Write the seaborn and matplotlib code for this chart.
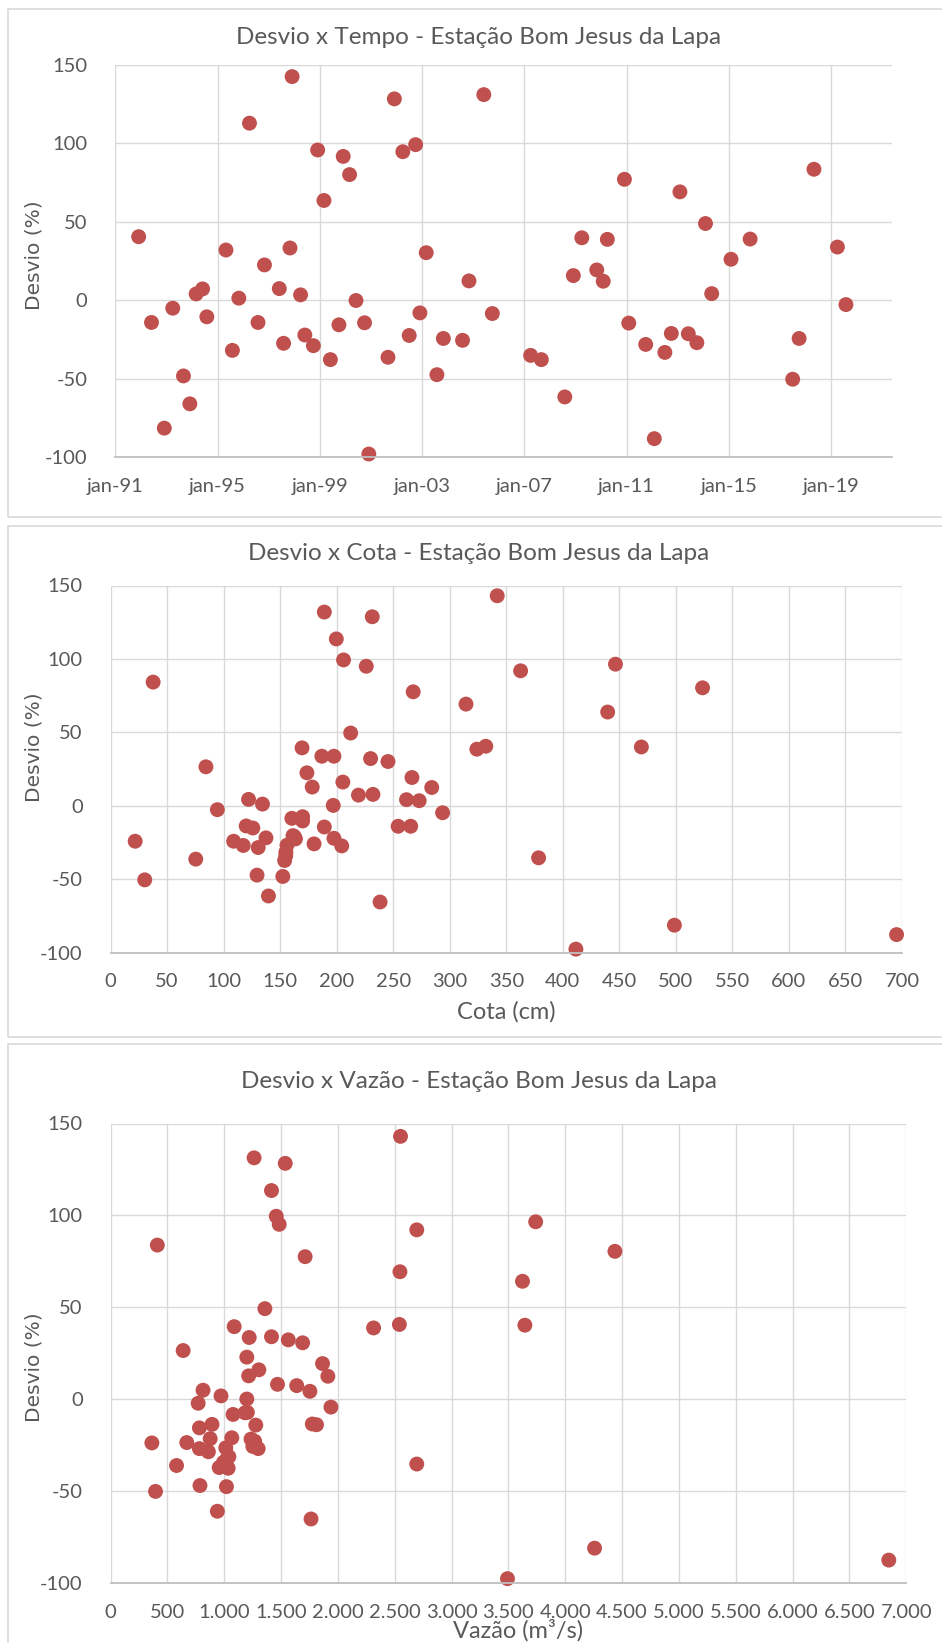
import numpy as np
import pandas as pd
import seaborn as sns
import matplotlib
matplotlib.use('Agg')
import matplotlib.pyplot as plt
import matplotlib.dates as mdates
from matplotlib.ticker import FuncFormatter, MultipleLocator
from matplotlib.patches import Rectangle

# Desvio x Tempo
datas = ['1991-12', '1992-06', '1992-12', '1993-04', '1993-09', '1993-12', '1994-03', '1994-06', '1994-08', '1995-05',
         '1995-08', '1995-11', '1996-04', '1996-08', '1996-11', '1997-06', '1997-08', '1997-11', '1997-12', '1998-04',
         '1998-06', '1998-10', '1998-12', '1999-03', '1999-06', '1999-10', '1999-12', '2000-03', '2000-06', '2000-10',
         '2000-12', '2001-09', '2001-12', '2002-04', '2002-07', '2002-10', '2002-12', '2003-03', '2003-08', '2003-11',
         '2004-08', '2004-11', '2005-06', '2005-10', '2007-04', '2007-09', '2008-08', '2008-12', '2009-04', '2009-11',
         '2010-02', '2010-04', '2010-12', '2011-02', '2011-10', '2012-02', '2012-07', '2012-10', '2013-02', '2013-06',
         '2013-10', '2014-02', '2014-05', '2015-02', '2015-11', '2017-07', '2017-10', '2018-05', '2019-04', '2019-08']
desvio_tempo = [40.5, -14.2, -81.6, -5.1, -48.3, -66.1, 4.0, 7.2, -10.6, 32.0,
                -32.0, 1.3, 112.9, -14.2, 22.5, 7.4, -27.5, 33.3, 142.6, 3.4,
                -22.2, -29.0, 95.8, 63.6, -37.9, -15.7, 91.7, 80.1, -0.2, -14.4,
                -98.1, -36.4, 128.4, 94.7, -22.5, 99.2, -8.1, 30.3, -47.5, -24.4,
                -25.6, 12.3, 131.1, -8.5, -35.2, -37.9, -61.7, 15.7, 39.8, 19.3,
                12.1, 38.8, 77.1, -14.6, -28.2, -88.3, -33.3, -21.2, 69.1, -21.4,
                -27.1, 48.9, 4.2, 26.1, 39.0, -50.4, -24.4, 83.5, 33.9, -2.8]

# Desvio x Cota
cota = [21.8, 30.3, 37.7, 75.4, 84.4, 94.5, 108.9, 117.4, 120.0, 122.1,
        125.9, 129.6, 130.6, 134.4, 137.5, 139.7, 152.4, 154.0, 155.1, 156.1,
        160.4, 161.4, 163.6, 169.9, 169.9, 169.4, 173.7, 178.4, 180.0, 186.9,
        189.1, 189.1, 197.6, 197.0, 197.6, 199.7, 204.5, 205.5, 206.1, 212.4,
        219.3, 226.2, 230.0, 231.5, 232.1, 238.4, 245.4, 254.4, 261.8, 265.5,
        266.6, 267.7, 273.0, 284.1, 293.7, 314.4, 324.0, 331.9, 342.0, 362.7,
        378.6, 411.6, 439.7, 446.6, 469.5, 498.7, 523.6, 695.2, 155.0, 162.5]
desvio_cota = [-24.2, -50.5, 84.2, -36.4, 26.5, -2.7, -24.2, -27.1, -13.8, 4.3,
               -15.2, -47.3, -28.5, 1.1, -21.9, -61.5, -48.2, -37.3, -31.7, -26.9,
               -8.6, -20.4, -22.6, -7.5, -10.4, 39.4, 22.4, 12.7, -26.0, 33.7,
               131.9, -14.5, 33.7, 0.2, -22.2, 113.6, -27.4, 16.1, 99.3, 49.5,
               7.2, 95.0, 32.1, 128.7, 7.7, -65.6, 30.1, -14.0, 4.1, -14.0,
               19.2, 77.6, 3.4, 12.4, -4.8, 69.2, 38.5, 40.5, 143.0, 91.9,
               -35.5, -97.7, 63.8, 96.4, 40.0, -81.4, 80.3, -87.8, -34.0, -21.0]

# Desvio x Vazao
vazao = [364, 396, 412, 581, 639, 671, 771, 782, 782, 787,
         814, 861, 877, 893, 940, 956, 972, 1014, 1020, 1025,
         1035, 1041, 1067, 1078, 1088, 1183, 1199, 1199, 1215, 1220,
         1236, 1252, 1263, 1278, 1299, 1305, 1358, 1416, 1416, 1458,
         1469, 1484, 1537, 1564, 1638, 1690, 1712, 1754, 1764, 1775,
         1812, 1865, 1912, 1939, 2314, 2541, 2546, 2551, 2694, 2694,
         3492, 3624, 3645, 3740, 4258, 4437, 6846, 993, 1204, 1268]
desvio_vazao = [-23.9, -50.3, 83.8, -36.2, 26.4, -23.7, -2.3, -15.7, -27.0, -47.1,
                4.8, -28.7, -21.6, -13.8, -61.1, -37.3, 1.7, -26.6, -47.7, -32.5,
                -37.7, -31.4, -21.1, -8.4, 39.4, -7.5, 0.0, 22.8, 12.6, 33.5,
                -21.8, -25.8, 131.3, -14.2, -27.0, 15.9, 49.2, 113.5, 33.9, 99.5,
                8.0, 95.1, 128.3, 32.2, 7.3, 30.6, 77.5, 4.2, -65.3, -13.6,
                -14.0, 19.3, 12.4, -4.4, 38.7, 40.6, 69.3, 143.0, 92.1, -35.4,
                -97.8, 64.1, 40.2, 96.5, -81.2, 80.4, -87.7, -34.5, -7.3, -23.0]

titulos = ['Desvio x Tempo - Estação Bom Jesus da Lapa',
           'Desvio x Cota - Estação Bom Jesus da Lapa',
           'Desvio x Vazão - Estação Bom Jesus da Lapa']

sns.set_style('white')
plt.rcParams['font.family'] = ['Lato', 'DejaVu Sans']
plt.rcParams['axes.unicode_minus'] = False

W, H = 942, 1643
cinza = '#595959'
vermelho = '#C0504D'

fig = plt.figure(figsize=(W / 100, H / 100), dpi=100)


def caixa(l, r, t, b):
    return [l / W, 1 - b / H, (r - l) / W, (b - t) / H]


def moldura(t, b):
    fig.patches.append(Rectangle((8 / W, 1 - b / H), (980 - 8) / W, (b - t) / H,
                                 transform=fig.transFigure, fill=False,
                                 edgecolor='#d9d9d9', linewidth=1.2))


def estilo(ax):
    ax.set_ylim(-100, 150)
    ax.set_yticks(range(-100, 151, 50))
    ax.grid(True, color='#d9d9d9', linewidth=1.0)
    ax.set_axisbelow(True)
    for lado in ['top', 'right', 'left']:
        ax.spines[lado].set_visible(False)
    ax.spines['bottom'].set_color('#bfbfbf')
    ax.spines['bottom'].set_linewidth(1.3)
    ax.tick_params(axis='both', length=0, labelsize=14.5, labelcolor=cinza)
    ax.tick_params(axis='y', pad=20)
    ax.tick_params(axis='x', pad=15)
    ax.set_xlabel('')
    ax.set_ylabel('')
    for c in ax.collections:
        c.set_clip_on(False)


def rotulo_y(yc):
    fig.text(34 / W, 1 - yc / H, 'Desvio (%)', rotation=90, ha='center', va='center',
             fontsize=14.5, color=cinza, family=['DejaVu Sans'])


# ---- painel 1: tempo
moldura(9, 517)
ax1 = fig.add_axes(caixa(115.3, 892, 65, 457))
df1 = pd.DataFrame({'data': pd.to_datetime(datas), 'desvio': desvio_tempo})
sns.scatterplot(data=df1, x='data', y='desvio', ax=ax1, s=115, color=vermelho,
                edgecolor='none', linewidth=0)
ax1.set_xlim(mdates.date2num(pd.Timestamp('1991-01-01')), mdates.date2num(pd.Timestamp('2021-05-20')))
ax1.set_xticks([mdates.date2num(pd.Timestamp(f'{a}-01-01')) for a in range(1991, 2020, 4)])
ax1.xaxis.set_major_formatter(FuncFormatter(lambda v, p: 'jan-' + mdates.num2date(v).strftime('%y')))
estilo(ax1)
fig.text(479 / W, 1 - 38 / H, titulos[0], ha='center', va='center', fontsize=17.5, color=cinza)
rotulo_y(255)

# ---- painel 2: cota
moldura(526, 1037)
ax2 = fig.add_axes(caixa(110.5, 902, 585.5, 952.5))
df2 = pd.DataFrame({'cota': cota, 'desvio': desvio_cota})
sns.scatterplot(data=df2, x='cota', y='desvio', ax=ax2, s=115, color=vermelho,
                edgecolor='none', linewidth=0)
ax2.set_xlim(0, 700)
ax2.xaxis.set_major_locator(MultipleLocator(50))
estilo(ax2)
fig.text(479 / W, 1 - 553 / H, titulos[1], ha='center', va='center', fontsize=17.5, color=cinza)
fig.text(506 / W, 1 - 1012 / H, 'Cota (cm)', ha='center', va='center', fontsize=17, color=cinza)
rotulo_y(747)

# ---- painel 3: vazao
moldura(1044, 1700)
ax3 = fig.add_axes(caixa(110.5, 906.3, 1123.5, 1582.7))
df3 = pd.DataFrame({'vazao': vazao, 'desvio': desvio_vazao})
sns.scatterplot(data=df3, x='vazao', y='desvio', ax=ax3, s=115, color=vermelho,
                edgecolor='none', linewidth=0)
ax3.set_xlim(0, 7000)
ax3.xaxis.set_major_locator(MultipleLocator(500))
ax3.xaxis.set_major_formatter(FuncFormatter(lambda v, p: f'{int(v):,}'.replace(',', '.')))
estilo(ax3)
fig.text(479 / W, 1 - 1082 / H, titulos[2], ha='center', va='center', fontsize=17.5, color=cinza)
fig.text(518 / W, 1 - 1630 / H, 'Vazão (m³/s)', ha='center', va='center', fontsize=17, color=cinza)
rotulo_y(1367)

fig.savefig('out.png', dpi=100)
